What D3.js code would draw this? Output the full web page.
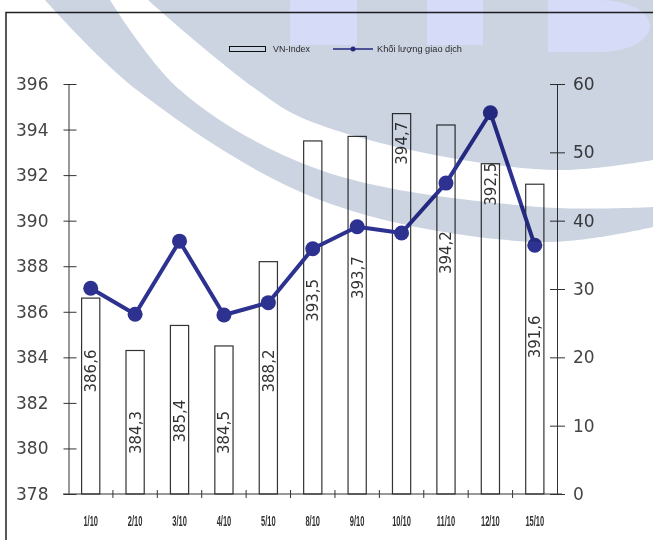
<!DOCTYPE html>
<html>
<head>
<meta charset="utf-8">
<script src="https://cdn.jsdelivr.net/npm/d3@7"></script>
<style>
  body { margin: 0; background: #fff; }
  svg { display: block; }
</style>
</head>
<body>
<div id="chart"></div>
<script>
// data
const dates = ["1/10", "2/10", "3/10", "4/10", "5/10", "8/10", "9/10", "10/10", "11/10", "12/10", "15/10"];
const vnIndex = [386.6, 384.3, 385.4, 384.5, 388.2, 393.5, 393.7, 394.7, 394.2, 392.5, 391.6];
const volume = [30.1, 26.3, 37.0, 26.2, 28.0, 35.9, 39.1, 38.2, 45.5, 55.8, 36.4];
const indexTicks = [378, 380, 382, 384, 386, 388, 390, 392, 394, 396];
const volumeTicks = [0, 10, 20, 30, 40, 50, 60];
// where each value label sits, on the VN-Index scale
const labelCenter = [383.4, 380.7, 381.2, 380.7, 383.4, 386.5, 387.5, 393.4, 388.6, 391.6, 384.9];

const W = 653, H = 540;
const svg = d3.select("#chart").append("svg")
  .attr("width", W)
  .attr("height", H);

const x = d3.scaleBand().domain(dates).range([68.5, 557]).padding(0);
const yL = d3.scaleLinear().domain([378, 396]).range([494, 84]);
const yR = d3.scaleLinear().domain([0, 60]).range([494, 84]);

const ink = "#333";
const lineColor = "#2d3190";

// frame
svg.append("path")
  .attr("d", "M6,540V12.5H653")
  .attr("fill", "none")
  .attr("stroke", "#222")
  .attr("stroke-width", 1.5);

// bars
const barW = x.bandwidth() * 0.41;
svg.append("g").selectAll("rect")
  .data(dates)
  .join("rect")
  .attr("x", d => x(d) + x.bandwidth() / 2 - barW / 2)
  .attr("y", (d, i) => yL(vnIndex[i]))
  .attr("width", barW)
  .attr("height", (d, i) => yL(378) - yL(vnIndex[i]))
  .attr("fill", "#fff")
  .attr("stroke", ink)
  .attr("stroke-width", 1.2);

// value labels inside bars
svg.append("g").selectAll("text")
  .data(dates)
  .join("text")
  .attr("transform", (d, i) => `translate(${x(d) + x.bandwidth() / 2},${yL(labelCenter[i])}) rotate(-90)`)
  .attr("text-anchor", "middle")
  .attr("dy", "0.36em")
  .attr("font-family", "DejaVu Sans")
  .attr("font-size", 15)
  .attr("fill", ink)
  .text((d, i) => String(vnIndex[i]).replace(".", ","));

// left axis
const axL = svg.append("g")
  .attr("transform", "translate(68.5,0)")
  .call(d3.axisLeft(yL).tickValues(indexTicks).tickSizeInner(5).tickSizeOuter(0).tickPadding(15));
axL.selectAll(".tick line").attr("x1", 8);
axL.selectAll(".tick text").attr("font-size", 17).attr("font-family", "DejaVu Sans").attr("fill", "#444");
axL.selectAll("line, path").attr("stroke", ink);

// right axis
const axR = svg.append("g")
  .attr("transform", "translate(557,0)")
  .call(d3.axisRight(yR).tickValues(volumeTicks).tickSizeInner(8).tickSizeOuter(0).tickPadding(8));
axR.selectAll(".tick line").attr("x1", -7);
axR.selectAll(".tick text").attr("font-size", 17).attr("font-family", "DejaVu Sans").attr("fill", "#444");
axR.selectAll("line, path").attr("stroke", ink);

// bottom axis
const axB = svg.append("g")
  .attr("transform", "translate(0,494)")
  .call(d3.axisBottom(x).tickSize(0).tickPadding(0).tickSizeOuter(0));
axB.select(".domain").attr("stroke", ink).attr("d", "M63,0H562");
axB.selectAll(".tick text")
  .attr("y", 0)
  .attr("dy", 0)
  .attr("transform", "translate(0,32) scale(0.5,1)")
  .attr("font-family", "Liberation Sans")
  .attr("font-weight", "bold")
  .attr("font-size", 15)
  .attr("fill", ink);
axB.append("g").selectAll("line")
  .data(dates.slice(1))
  .join("line")
  .attr("x1", d => x(d))
  .attr("x2", d => x(d))
  .attr("y1", -4)
  .attr("y2", 4)
  .attr("stroke", ink);

// volume line
const line = d3.line()
  .x((d, i) => x(dates[i]) + x.bandwidth() / 2)
  .y(d => yR(d));

svg.append("path")
  .datum(volume)
  .attr("d", line)
  .attr("fill", "none")
  .attr("stroke", lineColor)
  .attr("stroke-width", 4)
  .attr("stroke-linejoin", "round");

svg.append("g").selectAll("circle")
  .data(volume)
  .join("circle")
  .attr("cx", (d, i) => x(dates[i]) + x.bandwidth() / 2)
  .attr("cy", d => yR(d))
  .attr("r", 7.5)
  .attr("fill", lineColor);

// legend
const legend = svg.append("g").attr("font-family", "Liberation Sans").attr("font-size", 9).attr("fill", ink);
legend.append("rect")
  .attr("x", 229.5).attr("y", 46.5).attr("width", 36).attr("height", 5)
  .attr("fill", "#fff").attr("stroke", "#111");
legend.append("text")
  .attr("x", 273).attr("y", 52)
  .attr("textLength", 37).attr("lengthAdjust", "spacingAndGlyphs")
  .text("VN-Index");
legend.append("line")
  .attr("x1", 333).attr("x2", 373).attr("y1", 49).attr("y2", 49)
  .attr("stroke", lineColor).attr("stroke-width", 1.5);
legend.append("circle")
  .attr("cx", 353).attr("cy", 49).attr("r", 2.5)
  .attr("fill", lineColor);
legend.append("text")
  .attr("x", 377).attr("y", 52)
  .attr("textLength", 85).attr("lengthAdjust", "spacingAndGlyphs")
  .text("Khối lượng giao dịch");

// watermark tint laid over the whole picture
const mark = svg.append("g").style("mix-blend-mode", "multiply").attr("pointer-events", "none");
const curve = d3.line().curve(d3.curveCatmullRom);
const bandTop = [[110, 0], [180, 90], [320, 170], [540, 207], [653, 207]];
const bandBottom = [[653, 227], [540, 242], [320, 200], [137, 90], [45, 0]];
mark.append("path")
  .attr("d", curve(bandTop) + "L" + curve(bandBottom).slice(1) + "Z")
  .attr("fill", "#ccd4e2");
const upperEdge = [[148, 0], [200, 45], [257, 90], [300, 117], [420, 152], [560, 170], [653, 160]];
mark.append("path")
  .attr("d", curve(upperEdge) + "L653,0Z")
  .attr("fill", "#ccd4e2");
mark.append("path")
  .attr("d", "M290,0H357V45H290Z M427,0H483V45H427Z M548,0H600A50,26 0 0 1 600,52H548Z")
  .attr("fill", "#d6dbf7");
</script>
</body>
</html>
